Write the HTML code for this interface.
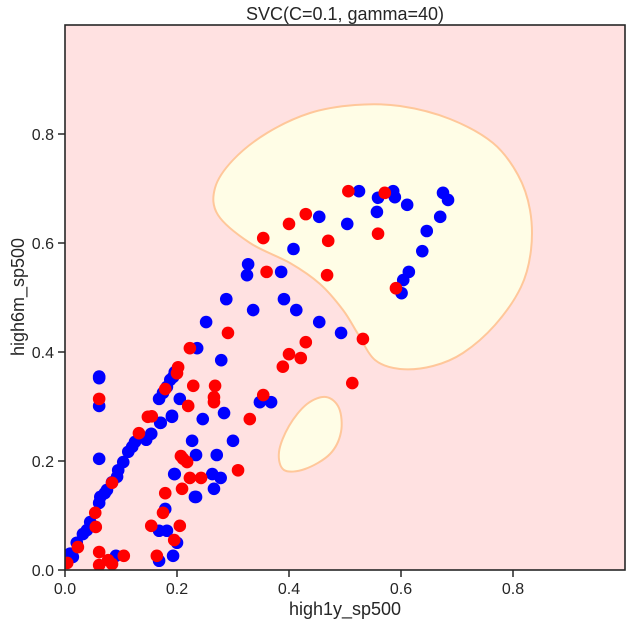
<!DOCTYPE html>
<html><head><meta charset="utf-8"><style>
html,body{margin:0;padding:0;background:#fff;}
svg{display:block;font-family:"Liberation Sans",sans-serif;}
</style></head><body>
<svg id="chart" width="630" height="627" viewBox="0 0 630 627">
<defs><clipPath id="clip"><rect x="65" y="25" width="560" height="545"/></clipPath></defs>
<rect x="65" y="25" width="560" height="545" fill="#ffe1e1"/>
<g clip-path="url(#clip)">
<path id="blob1" fill="#fffde6" stroke="#ffc79a" stroke-width="2" d=""/>
<path id="blob2" fill="#fffde6" stroke="#ffc79a" stroke-width="2" d=""/>
<g id="points"></g>
</g>
<g id="axes"></g>
<text x="345" y="20" font-size="18" fill="#262626" text-anchor="middle">SVC(C=0.1, gamma=40)</text>
<text x="345" y="615" font-size="18" fill="#262626" text-anchor="middle">high1y_sp500</text>
<text transform="translate(24,297) rotate(-90)" font-size="18" fill="#262626" text-anchor="middle">high6m_sp500</text>
</svg>
<script>
const xTicks=[0,0.2,0.4,0.6,0.8];
const yTicks=[0,0.2,0.4,0.6,0.8];
const tickLabels=["0.0","0.2","0.4","0.6","0.8"];
const blueX=[.525,.586,.589,.559,.611,.675,.684,.557,.454,.504,.670,.408,.646,.638,.327,.325,.386,.614,.604,.601,.288,.336,.391,.413,.252,.454,.493,.279,.236,.205,.284,.348,.368,.246,.191,.171,.300,.227,.234,.271,.196,.263,.278,.266,.234,.061,.061,.061,.061,.195,.232,.179,.168,.182,.200,.168,.193,.091,.014,.032,.045,.061,.071,.084,.095,.104,.113,.125,.145,.154,.170,.191,.168,.188,.196,.021,.039,.063,.075,.093,.120,.175,.182,.193,.003,.009];
const blueY=[.695,.695,.684,.683,.670,.692,.679,.657,.648,.635,.648,.589,.622,.585,.561,.541,.547,.547,.532,.508,.497,.477,.497,.477,.455,.455,.435,.385,.407,.314,.288,.308,.308,.277,.283,.270,.237,.237,.211,.211,.176,.176,.169,.149,.134,.355,.352,.301,.204,.176,.134,.112,.072,.072,.050,.017,.026,.026,.024,.066,.088,.123,.141,.161,.183,.198,.217,.235,.239,.250,.270,.281,.314,.349,.363,.050,.073,.134,.147,.171,.226,.325,.336,.354,.020,.030];
const redX=[.506,.571,.430,.400,.559,.354,.470,.360,.468,.591,.291,.532,.430,.400,.421,.389,.513,.223,.229,.268,.266,.266,.220,.354,.330,.211,.218,.309,.223,.243,.209,.179,.207,.061,.175,.154,.205,.195,.164,.061,.061,.077,.084,.105,.055,.004,.023,.054,.084,.132,.148,.179,.202,.200,.155];
const redY=[.695,.692,.653,.635,.617,.609,.604,.547,.541,.517,.435,.424,.418,.396,.389,.373,.343,.407,.338,.338,.317,.308,.301,.321,.277,.204,.198,.183,.169,.169,.149,.141,.209,.314,.105,.081,.081,.055,.026,.033,.009,.018,.011,.026,.079,.013,.042,.105,.160,.251,.281,.332,.372,.361,.282];
const X0=65,X1=625,Y0=570,Y1=25;
function sx(v){return X0+v*(X1-X0);}
function sy(v){return Y0-v*(Y0-Y1);}
function smooth(p){
  let d='M'+p[0][0]+','+p[0][1];const n=p.length;
  for(let i=0;i<n;i++){
    const p0=p[(i-1+n)%n],p1=p[i],p2=p[(i+1)%n],p3=p[(i+2)%n];
    const c1=[p1[0]+(p2[0]-p0[0])/6,p1[1]+(p2[1]-p0[1])/6];
    const c2=[p2[0]-(p3[0]-p1[0])/6,p2[1]-(p3[1]-p1[1])/6];
    d+=' C'+c1[0].toFixed(1)+','+c1[1].toFixed(1)+' '+c2[0].toFixed(1)+','+c2[1].toFixed(1)+' '+p2[0]+','+p2[1];
  }
  return d+'Z';
}
document.getElementById('blob1').setAttribute('d',smooth([[355,105],[400,106],[450,119],[493,143],[518,175],[530,210],[531,250],[521,287],[495,325],[463,353],[433,366],[400,369],[375,360],[358,334],[343,310],[320,284],[290,263],[250,243],[218,215],[215,188],[233,160],[267,133],[310,113]]));
document.getElementById('blob2').setAttribute('d',smooth([[326,397],[339,408],[341,432],[330,454],[305,469],[284,470],[279,452],[289,426],[307,404]]));
const NS="http://www.w3.org/2000/svg";
const pts=document.getElementById('points');
function dot(x,y,c,name){
  const el=document.createElementNS(NS,'circle');
  el.setAttribute('cx',sx(x));el.setAttribute('cy',sy(y));el.setAttribute('r',6.3);el.setAttribute('fill',c);
  
  
  pts.appendChild(el);
}
for(let i=0;i<blueX.length;i++)dot(blueX[i],blueY[i],'#0000ff','point-class-1');
for(let i=0;i<redX.length;i++)dot(redX[i],redY[i],'#ff0000','point-class-0');
const ax=document.getElementById('axes');
function add(tag,attrs,parent){const e=document.createElementNS(NS,tag);for(const k in attrs)e.setAttribute(k,attrs[k]);(parent||ax).appendChild(e);return e;}
const frame=add('rect',{x:65,y:25,width:560,height:545,fill:'none',stroke:'#262626','stroke-width':1.6});


xTicks.forEach((t,i)=>{
  const l=add('line',{x1:sx(t),x2:sx(t),y1:570,y2:577,stroke:'#262626','stroke-width':1.5});
  
  
  const tx=add('text',{x:sx(t),y:594,'font-size':16,fill:'#262626','text-anchor':'middle'});
  tx.textContent=tickLabels[i];
  
  
});
yTicks.forEach((t,i)=>{
  const l=add('line',{x1:58,x2:65,y1:sy(t),y2:sy(t),stroke:'#262626','stroke-width':1.5});
  
  
  const tx=add('text',{x:54,y:sy(t)+6,'font-size':16,fill:'#262626','text-anchor':'end'});
  tx.textContent=tickLabels[i];
  
  
});
</script>
</body></html>
